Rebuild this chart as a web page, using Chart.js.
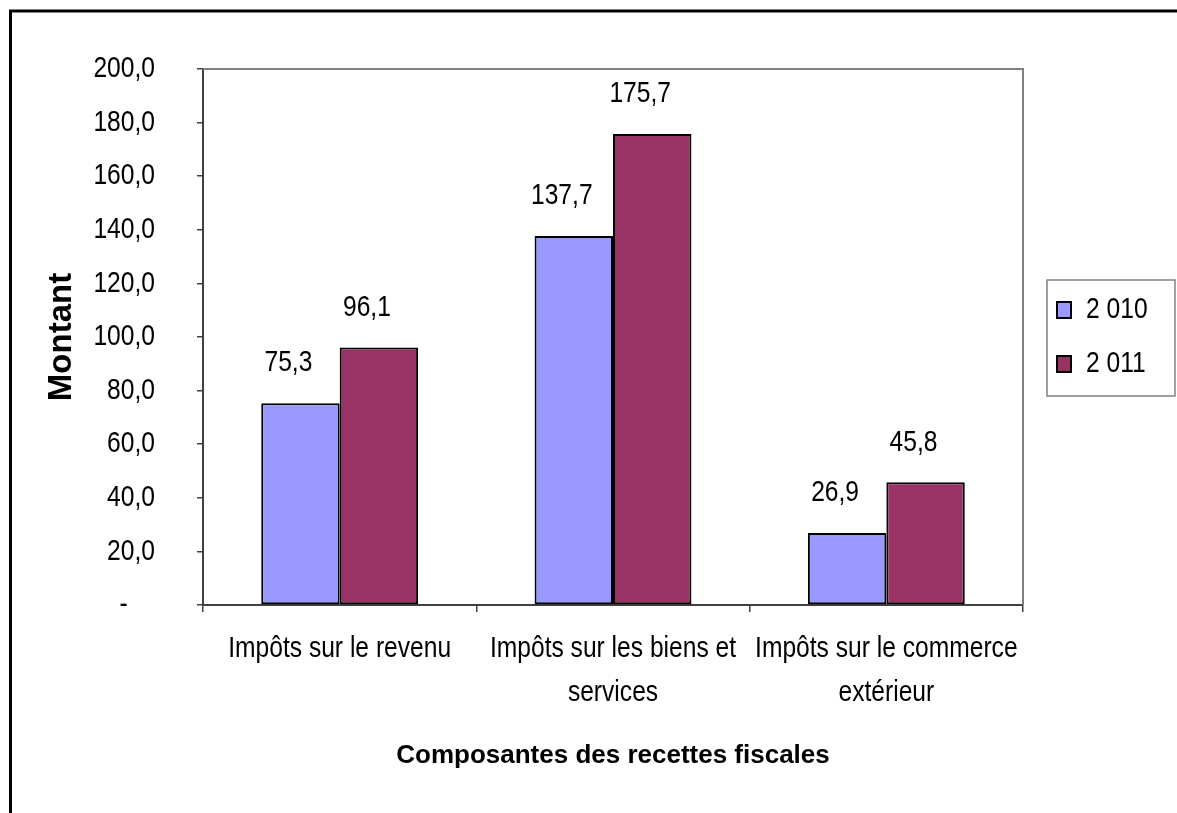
<!DOCTYPE html>
<html>
<head>
<meta charset="utf-8">
<script src="https://cdn.jsdelivr.net/npm/chart.js@4/dist/chart.umd.min.js"></script>
<style>
  html, body { margin: 0; padding: 0; background: #ffffff; }
  #wrap { width: 1177px; height: 813px; position: relative; }
</style>
</head>
<body>
<div id="wrap"><canvas id="c" width="1177" height="813"></canvas></div>
<script>
// ---- data ----
const categories = [
  ["Impôts sur le revenu"],
  ["Impôts sur les biens et", "services"],
  ["Impôts sur le commerce", "extérieur"]
];
const seriesLabels = ["2 010", "2 011"];
const values2010 = [75.3, 137.7, 26.9];
const values2011 = [96.1, 175.7, 45.8];
const yMin = 0;
const yMax = 200;
const yStep = 20;
const xTitle = "Composantes des recettes fiscales";
const yTitle = "Montant";

// ---- styles ----
const FONT = "'Liberation Sans', Arial, sans-serif";
const NARROW_SCALE = 0.82; // emulate a narrow (Arial Narrow-like) face for regular text
const colors = ["#9999FF", "#993366"];
const axisColor = "#404040";

function fmt(v) {
  return v.toFixed(1).replace(".", ",");
}

// Condense regular-weight text horizontally around its anchor point
const canvas = document.getElementById("c");
const ctx2d = canvas.getContext("2d");
(function patchNarrow(ctx) {
  const origFill = ctx.fillText;
  const origMeasure = ctx.measureText;
  ctx.fillText = function (t, x, y, mw) {
    if (/bold/.test(this.font)) {
      return mw === undefined ? origFill.call(this, t, x, y) : origFill.call(this, t, x, y, mw);
    }
    this.save();
    this.translate(x, y);
    this.scale(NARROW_SCALE, 1);
    if (mw === undefined) origFill.call(this, t, 0, 0);
    else origFill.call(this, t, 0, 0, mw / NARROW_SCALE);
    this.restore();
  };
  ctx.measureText = function (t) {
    const m = origMeasure.call(this, t);
    if (/bold/.test(this.font)) return m;
    return {
      width: m.width * NARROW_SCALE,
      actualBoundingBoxAscent: m.actualBoundingBoxAscent,
      actualBoundingBoxDescent: m.actualBoundingBoxDescent,
      actualBoundingBoxLeft: m.actualBoundingBoxLeft * NARROW_SCALE,
      actualBoundingBoxRight: m.actualBoundingBoxRight * NARROW_SCALE
    };
  };
})(ctx2d);

const framePlugin = {
  id: "frame",
  beforeDraw(chart) {
    const ctx = chart.ctx;
    ctx.save();
    ctx.fillStyle = "#ffffff";
    ctx.fillRect(0, 0, chart.width, chart.height);
    ctx.strokeStyle = "#000000";
    ctx.lineWidth = 3;
    ctx.beginPath();
    ctx.moveTo(10.5, chart.height + 5);
    ctx.lineTo(10.5, 11);
    ctx.lineTo(chart.width + 5, 11);
    ctx.stroke();
    ctx.restore();
  },
  afterDraw(chart) {
    const ctx = chart.ctx;
    const a = chart.chartArea;
    ctx.save();
    ctx.strokeStyle = "#808080";
    ctx.lineWidth = 2;
    ctx.beginPath();
    ctx.moveTo(a.left, a.top);
    ctx.lineTo(a.right, a.top);
    ctx.lineTo(a.right, a.bottom);
    ctx.stroke();
    const lg = chart.legend;
    if (lg && lg.legendHitBoxes && lg.legendHitBoxes.length) {
      const hb = lg.legendHitBoxes;
      const top = hb[0].top - 15;
      const last = hb[hb.length - 1];
      const bottom = last.top + last.height + 17;
      const left = lg.left + 14;
      const right = lg.right - 2;
      ctx.strokeStyle = "#808080";
      ctx.lineWidth = 1.5;
      ctx.strokeRect(left, top, right - left, bottom - top);
    }
    ctx.restore();
  }
};

const legendFixPlugin = {
  id: "legendFix",
  afterInit(chart) {
    const lg = chart.legend;
    if (lg && !lg._patched) {
      const orig = lg.fit;
      lg.fit = function () {
        orig.call(this);
        this.width = 154;
      };
      lg._patched = true;
    }
  },
  afterLayout(chart) {
    const lg = chart.legend;
    if (lg) {
      lg.left = chart.chartArea.right + 10;
    }
  }
};

const valueLabelPlugin = {
  id: "valueLabels",
  afterDatasetsDraw(chart) {
    const ctx = chart.ctx;
    ctx.save();
    ctx.font = "30px " + FONT;
    ctx.fillStyle = "#000000";
    ctx.textAlign = "center";
    ctx.textBaseline = "middle";
    chart.data.datasets.forEach((ds, i) => {
      const meta = chart.getDatasetMeta(i);
      meta.data.forEach((el, j) => {
        ctx.fillText(fmt(ds.data[j]), el.x - 12, el.y - 40);
      });
    });
    ctx.restore();
  }
};

new Chart(canvas, {
  type: "bar",
  data: {
    labels: categories,
    datasets: [
      {
        label: seriesLabels[0],
        data: values2010,
        backgroundColor: colors[0],
        borderColor: "#000000",
        borderWidth: 2,
        borderSkipped: false
      },
      {
        label: seriesLabels[1],
        data: values2011,
        backgroundColor: colors[1],
        borderColor: "#000000",
        borderWidth: 2,
        borderSkipped: false
      }
    ]
  },
  options: {
    responsive: false,
    animation: false,
    layout: { padding: { top: 69, left: 0, right: 0, bottom: 0 } },
    datasets: {
      bar: { categoryPercentage: 0.574, barPercentage: 1.0 }
    },
    plugins: {
      tooltip: { enabled: false },
      title: { display: false },
      legend: {
        display: true,
        position: "right",
        align: "center",
        fullSize: false,
        labels: {
          boxWidth: 14,
          boxHeight: 16,
          padding: 24,
          color: "#000000",
          font: { family: FONT, size: 30 }
        }
      }
    },
    scales: {
      x: {
        grid: {
          display: true,
          drawOnChartArea: false,
          drawTicks: true,
          tickLength: 7,
          color: axisColor,
          lineWidth: 1.5,
          offset: true
        },
        border: { display: true, color: axisColor, width: 2 },
        ticks: {
          color: "#000000",
          padding: 15,
          maxRotation: 0,
          autoSkip: false,
          font: { family: FONT, size: 30, lineHeight: 1.4667 }
        },
        title: {
          display: true,
          text: xTitle,
          color: "#000000",
          font: { family: FONT, size: 26, weight: "bold", lineHeight: 1.2 },
          padding: { top: 0, bottom: 42 }
        },
        afterFit(scale) { scale.height = 813 - 605; }
      },
      y: {
        min: yMin,
        max: yMax,
        grid: {
          display: true,
          drawOnChartArea: false,
          drawTicks: true,
          tickLength: 6,
          color: axisColor,
          lineWidth: 1.5
        },
        border: { display: true, color: axisColor, width: 2 },
        ticks: {
          stepSize: yStep,
          color: "#000000",
          padding: 42,
          font: { family: FONT, size: 30 },
          callback: (v) => (v === 0 ? "-    " : fmt(v))
        },
        title: {
          display: true,
          text: yTitle,
          color: "#000000",
          font: { family: FONT, size: 33, weight: "bold", lineHeight: 1.2 },
          padding: { top: 42, bottom: 0 }
        },
        afterFit(scale) { scale.width = 203; }
      }
    }
  },
  plugins: [framePlugin, legendFixPlugin, valueLabelPlugin]
});
</script>
</body>
</html>
